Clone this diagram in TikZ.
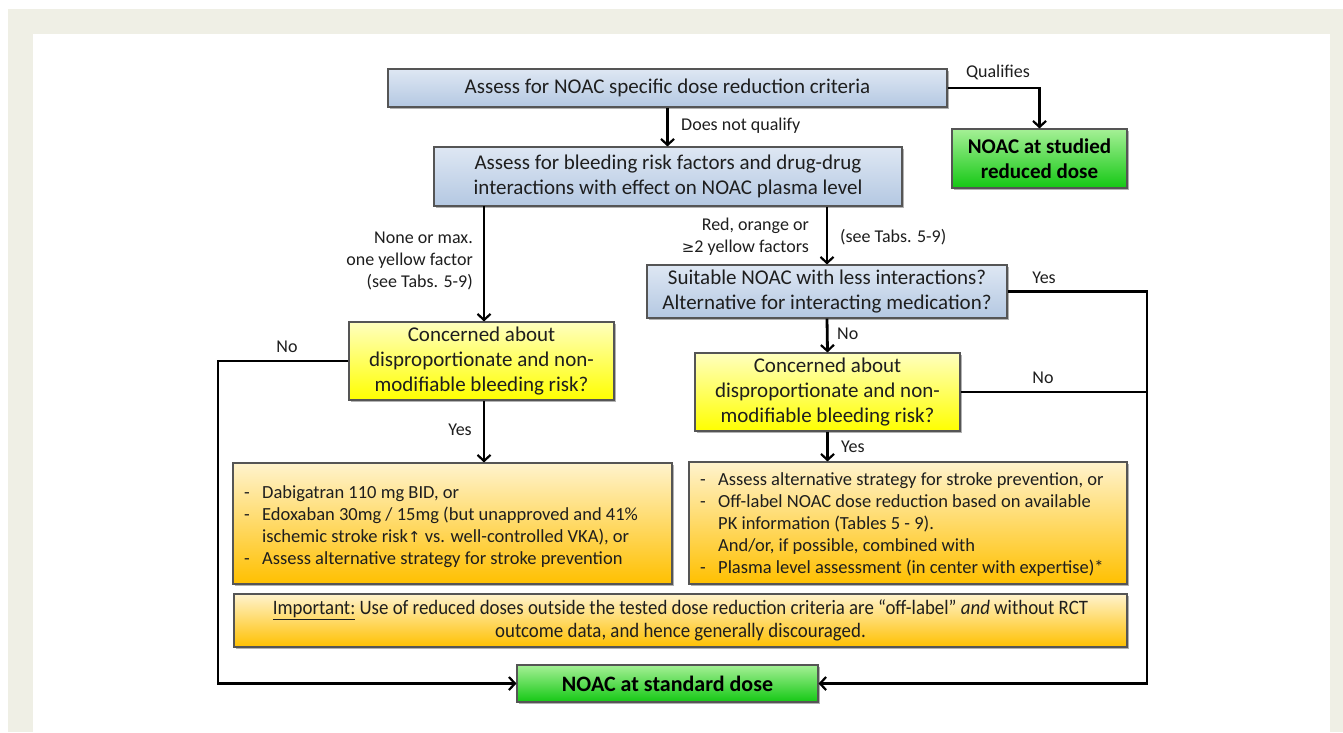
\documentclass[tikz,border=0pt]{standalone}
\usepackage{fontspec}
\setmainfont{Carlito}
\newfontfamily\symfont{DejaVu Sans}
\newfontfamily\condfont[FakeStretch=0.92]{Carlito}
\usetikzlibrary{arrows.meta,shadows}
\definecolor{bgbeige}{RGB}{239,239,229}
\definecolor{blueTop}{RGB}{222,231,243}
\definecolor{blueBot}{RGB}{180,200,226}
\definecolor{yelTop}{RGB}{255,255,190}
\definecolor{yelBot}{RGB}{255,255,0}
\definecolor{orTop}{RGB}{255,243,205}
\definecolor{orBot}{RGB}{255,192,0}
\definecolor{grTop}{RGB}{165,240,150}
\definecolor{grBot}{RGB}{20,200,20}
\definecolor{bord}{RGB}{85,85,85}
\definecolor{txt}{RGB}{30,30,30}
\begin{document}
\begin{tikzpicture}[x=1pt,y=-1pt,
  every node/.style={text=txt},
  box/.style={draw=bord, line width=1.1pt, inner sep=0pt, align=center,
    drop shadow={shadow xshift=1.6pt, shadow yshift=-1.6pt, opacity=0.3, fill=black}},
  bluebox/.style={box, top color=blueTop, bottom color=blueBot, font=\fontsize{21}{25}\selectfont},
  yelbox/.style={box, top color=yelTop, bottom color=yelBot, font=\fontsize{21}{25}\selectfont},
  orbox/.style={box, top color=orTop, bottom color=orBot},
  grbox/.style={box, top color=grTop, bottom color=grBot, text=black, font=\fontsize{21}{25}\selectfont\bfseries},
  lbl/.style={inner sep=0pt, font=\fontsize{18}{22}\selectfont},
  listtxt/.style={inner sep=0pt, font=\fontsize{18.5}{22}\selectfont},
  conn/.style={line width=2.8pt, draw=black, line join=miter},
  arr/.style={conn, -{Straight Barb[length=6pt,width=13pt,line width=2.2pt]}}
]
\useasboundingbox (0,0) rectangle (1343,732);
\fill[white] (0,0) rectangle (1343,732);
\fill[bgbeige] (8,9) rectangle (1343,732);
\fill[white] (33,34) rectangle (1330,732);

% boxes
\node[bluebox, minimum width=559pt, minimum height=38pt] (b1) at (667.5,88) {Assess for NOAC specific dose reduction criteria};
\node[grbox, minimum width=175pt, minimum height=59pt] (gs) at (1039.5,158.5) {NOAC at studied\\reduced dose};
\node[bluebox, minimum width=468pt, minimum height=59pt] (b2) at (668,176.5) {Assess for bleeding risk factors and drug-drug\\interactions with effect on NOAC plasma level};
\node[yelbox, minimum width=265pt, minimum height=78pt] (y1) at (481.5,361) {Concerned about\\disproportionate and non-\\modifiable bleeding risk?};
\node[bluebox, minimum width=360pt, minimum height=53pt] (b3) at (827,291.5) {Suitable NOAC with less interactions?\\Alternative for interacting medication?};
\node[yelbox, minimum width=265pt, minimum height=78pt] (y2) at (827.5,392) {Concerned about\\disproportionate and non-\\modifiable bleeding risk?};
\node[orbox, minimum width=439pt, minimum height=121pt] (oL) at (452.5,523.5) {};
\node[orbox, minimum width=438pt, minimum height=122pt] (oR) at (908,523) {};
\node[orbox, minimum width=893pt, minimum height=53pt, font=\condfont\fontsize{20.5}{23}\selectfont] (imp) at (680.5,620.5)
  {\underline{Important:} Use of reduced doses outside the tested dose reduction criteria are “off-label” \textit{and} without RCT\\outcome data, and hence generally discouraged.};
\node[grbox, minimum width=301pt, minimum height=37pt, font=\fontsize{22}{26}\selectfont\bfseries] (std) at (667.5,683.5) {NOAC at standard dose};

% list texts
\node[listtxt, anchor=north west] (oLt) at (244,482.6) {\begin{tabular}{@{}p{18pt}@{}l@{}}
- & Dabigatran 110 mg BID, or\\
- & Edoxaban 30mg / 15mg (but unapproved and 41\%\\
  & ischemic stroke risk{\symfont\fontsize{15}{22}\selectfont↑} vs. well-controlled VKA), or\\
- & Assess alternative strategy for stroke prevention
\end{tabular}};
\node[listtxt, anchor=north west] (oRt) at (700,469.6) {\begin{tabular}{@{}p{18pt}@{}l@{}}
- & Assess alternative strategy for stroke prevention, or\\
- & Off-label NOAC dose reduction based on available\\
  & PK information (Tables 5 - 9).\\
  & And/or, if possible, combined with\\
- & Plasma level assessment (in center with expertise)*
\end{tabular}};

% helper corners
\coordinate (lc) at (218,683.5);
\coordinate (rc) at (1147,683.5);
\coordinate (b2l) at (484,206);

% connectors
\draw[arr] (b1.south) -- (b1.south |- b2.north);
\draw[arr] (b1.east) -| (gs.north);
\draw[arr] (b2l) -- (b2l |- y1.north);
\draw[arr] (b2.south -| b3.north) -- (b3.north);
\draw[arr] (y1.south -| b2l) -- (b2l |- oL.north);
\draw[arr] (b3.south) -- (y2.north);
\draw[arr] (y2.south) -- (y2.south |- oR.north);
\draw[arr] (y1.west) -| (lc) -- (std.west);
\draw[arr] (b3.east) -| (rc) -- (std.east);
\draw[conn] (y2.east) -- (y2.east -| rc);

% labels
\node[lbl] (lq) at (998,72) {Qualifies};
\node[lbl, anchor=west] (ldnq) at (681,126) {Does not qualify};
\node[lbl, anchor=east, align=right] (lnone) at (473,261) {None or max.\\one yellow factor\\(see Tabs. 5-9)};
\node[lbl, anchor=east, align=right] (lred) at (809,236.5) {Red, orange or\\{\symfont\fontsize{15}{22}\selectfont≥}2 yellow factors};
\node[lbl, anchor=west] (ltabs) at (840,237) {(see Tabs. 5-9)};
\node[lbl] (lno1) at (287,347) {No};
\node[lbl] (lyes1) at (460,430) {Yes};
\node[lbl] (lyes2) at (1044,278) {Yes};
\node[lbl, anchor=west] (lno2) at (837,334) {No};
\node[lbl] (lno3) at (1043,378) {No};
\node[lbl, anchor=west] (lyes3) at (841,447) {Yes};
\end{tikzpicture}
\end{document}
